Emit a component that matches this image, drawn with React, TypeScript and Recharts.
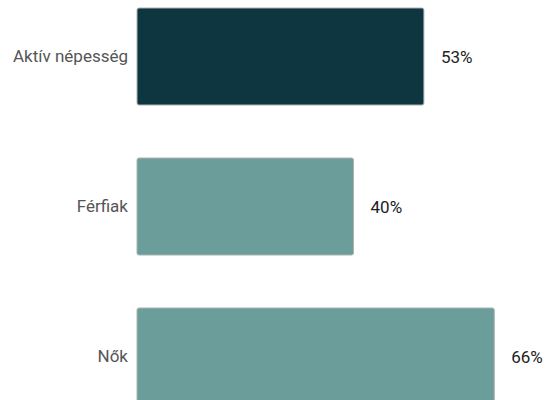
import React from 'react';
import { BarChart, Bar, XAxis, YAxis, LabelList, Cell } from 'recharts';

const categories = ['Aktív népesség', 'Férfiak', 'Nők'];
const values = [53, 40, 66];
const colors = ['#0d3640', '#6b9e9b', '#6b9e9b'];

const data = categories.map((name, i) => ({ name, value: values[i] }));

const FONT = 'Roboto, "Noto Sans", sans-serif';

export default function App() {
  return (
    <div style={{ position: 'absolute', left: 0, top: 0, width: 545, height: 400, overflow: 'hidden', fontFamily: FONT }}>
      <div style={{ position: 'relative', top: -19.5 }}>
        <BarChart
          width={545}
          height={450}
          data={data}
          layout="vertical"
          margin={{ top: 0, right: 2, bottom: 0, left: 0 }}
        >
          <XAxis type="number" domain={[0, 75]} hide />
          <YAxis
            type="category"
            dataKey="name"
            width={137}
            axisLine={false}
            tickLine={false}
            tickSize={0}
            tickMargin={9}
            tick={{ fill: '#555555', fontSize: 17, fontFamily: FONT }}
          />
          <Bar dataKey="value" barSize={97} radius={2} stroke="#b0b0b0" strokeWidth={1} isAnimationActive={false}>
            {data.map((d, i) => (
              <Cell key={d.name} fill={colors[i]} />
            ))}
            <LabelList
              dataKey="value"
              position="right"
              offset={17}
              formatter={(v: any) => `${v}%`}
              style={{
                fill: '#222222',
                fontSize: 17,
                fontFamily: FONT,
                stroke: '#ffffff',
                strokeWidth: 3,
                paintOrder: 'stroke',
              }}
            />
          </Bar>
        </BarChart>
      </div>
    </div>
  );
}
